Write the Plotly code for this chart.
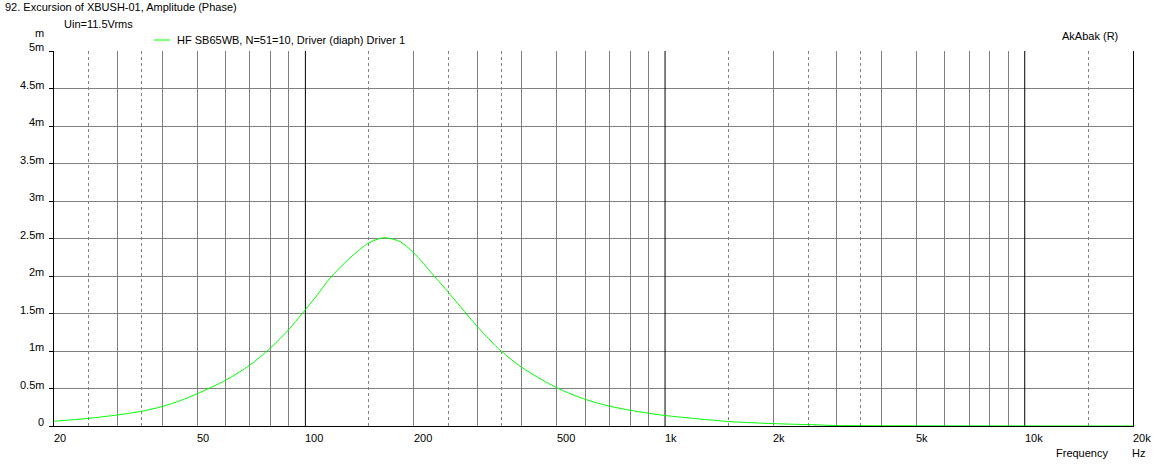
import numpy as np
import plotly.graph_objects as go

# ---- data ----
freq_hz = [20, 25, 30, 35, 40, 45, 50, 60, 70, 80, 90, 98, 108, 117, 133, 150,
           165, 183, 200, 227, 250, 280, 300, 350, 400, 500, 600, 700, 800, 900,
           1000, 1500, 2000, 2500, 2750, 3000, 5000, 10000, 20000]
excursion_mm = [0.063, 0.103, 0.147, 0.196, 0.26, 0.34, 0.43, 0.61, 0.81, 1.04, 1.29,
                1.50, 1.75, 1.97, 2.24, 2.44, 2.51, 2.46, 2.31, 2.01, 1.78, 1.50,
                1.33, 1.00, 0.78, 0.51, 0.355, 0.265, 0.21, 0.17, 0.14, 0.06, 0.032,
                0.018, 0.012, 0.006, 0.003, 0.001, 0.0003]

x_label_vals = [20, 50, 100, 200, 500, 1000, 2000, 5000, 10000, 20000]
x_label_text = ["20", "50", "100", "200", "500", "1k", "2k", "5k", "10k", "20k"]
grid_solid = [30, 40, 50, 60, 70, 80, 90,
              200, 300, 400, 500, 600, 700, 800, 900,
              2000, 3000, 4000, 5000, 6000, 7000, 8000, 9000]
grid_dash = [25, 35, 150, 250, 350, 1500, 2500, 3500, 15000]
grid_black = [100, 1000, 10000]
y_tick_vals = [0, 0.5, 1, 1.5, 2, 2.5, 3, 3.5, 4, 4.5, 5]
y_tick_text = ["0", "0.5m", "1m", "1.5m", "2m", "2.5m", "3m", "3.5m", "4m", "4.5m", "5m"]

title_text = "92. Excursion of XBUSH-01, Amplitude (Phase)"
sub_text = "Uin=11.5Vrms"
legend_text = "HF SB65WB, N=51=10, Driver (diaph) Driver 1"
brand_text = "AkAbak (R)"

W, H = 1158, 464
L, R, T, B = 54, 25, 51, 38
PW, PH = W - L - R, H - T - B
FONT = dict(family="Liberation Sans, Arial, sans-serif", size=11, color="black")


def px(x):
    return (x - L) / PW


def py(y):
    return (H - B - y) / PH


fig = go.Figure()

# black decade lines
bx, by = [], []
for f in grid_black:
    bx += [f, f, None]
    by += [0, 5, None]
fig.add_trace(go.Scatter(x=bx, y=by, mode="lines", line=dict(color="black", width=1),
                         hoverinfo="skip", showlegend=False))

fig.add_trace(go.Scatter(x=freq_hz, y=excursion_mm, mode="lines",
                         line=dict(color="#00ff00", width=1, shape="spline", smoothing=0.8),
                         showlegend=False))

ann = []
ann.append(dict(text=title_text, xref="paper", yref="paper", x=px(3), y=py(7),
                xanchor="left", yanchor="middle", showarrow=False, font=FONT))
ann.append(dict(text=sub_text, xref="paper", yref="paper", x=px(62), y=py(24),
                xanchor="left", yanchor="middle", showarrow=False, font=FONT))
ann.append(dict(text="m", xref="paper", yref="paper", x=px(46), y=py(33),
                xanchor="right", yanchor="middle", showarrow=False, font=FONT))
ann.append(dict(text=legend_text, xref="paper", yref="paper", x=px(175), y=py(40),
                xanchor="left", yanchor="middle", showarrow=False, font=FONT))
ann.append(dict(text=brand_text, xref="paper", yref="paper", x=px(1060), y=py(36),
                xanchor="left", yanchor="middle", showarrow=False, font=FONT))
ann.append(dict(text="Frequency", xref="paper", yref="paper", x=px(1054), y=py(453),
                xanchor="left", yanchor="middle", showarrow=False, font=FONT))
ann.append(dict(text="Hz", xref="paper", yref="paper", x=px(1130), y=py(453),
                xanchor="left", yanchor="middle", showarrow=False, font=FONT))
for v, t in zip(x_label_vals, x_label_text):
    ann.append(dict(text=t, xref="x", yref="paper", x=np.log10(v), y=py(438),
                    xanchor="left", yanchor="middle", showarrow=False, font=FONT,
                    xshift=-2))
for v, t in zip(y_tick_vals, y_tick_text):
    ann.append(dict(text=t, xref="paper", yref="y", x=px(46), y=v,
                    xanchor="right", yanchor="middle", showarrow=False, font=FONT,
                    yshift=4))

fig.update_layout(
    width=W, height=H,
    margin=dict(l=L, r=R, t=T, b=B, pad=0),
    paper_bgcolor="white", plot_bgcolor="white",
    font=FONT,
    annotations=ann,
    shapes=[dict(type="line", xref="paper", yref="paper", x0=px(154), x1=px(170),
                 y0=py(40), y1=py(40), line=dict(color="#00ff00", width=1))],
    xaxis=dict(type="log", range=[np.log10(20), np.log10(20000)],
               tickvals=grid_solid, showticklabels=False, ticks="",
               showgrid=True, gridcolor="#808080", gridwidth=1,
               minor=dict(tickvals=grid_dash, showgrid=True, gridcolor="#808080",
                          griddash="3px,3px", gridwidth=1, ticks=""),
               showline=True, linecolor="black", linewidth=1, mirror=False,
               zeroline=False, layer="below traces"),
    yaxis=dict(range=[0, 5], tickvals=y_tick_vals, showticklabels=False,
               ticks="outside", ticklen=4, tickcolor="black", tickwidth=1,
               showgrid=True, gridcolor="#808080", gridwidth=1,
               showline=True, linecolor="black", linewidth=1, mirror=True,
               zeroline=False),
)

fig.write_html("out.html", config={"displayModeBar": False},
               post_script="document.body.style.margin='0';document.body.style.padding='0';")
